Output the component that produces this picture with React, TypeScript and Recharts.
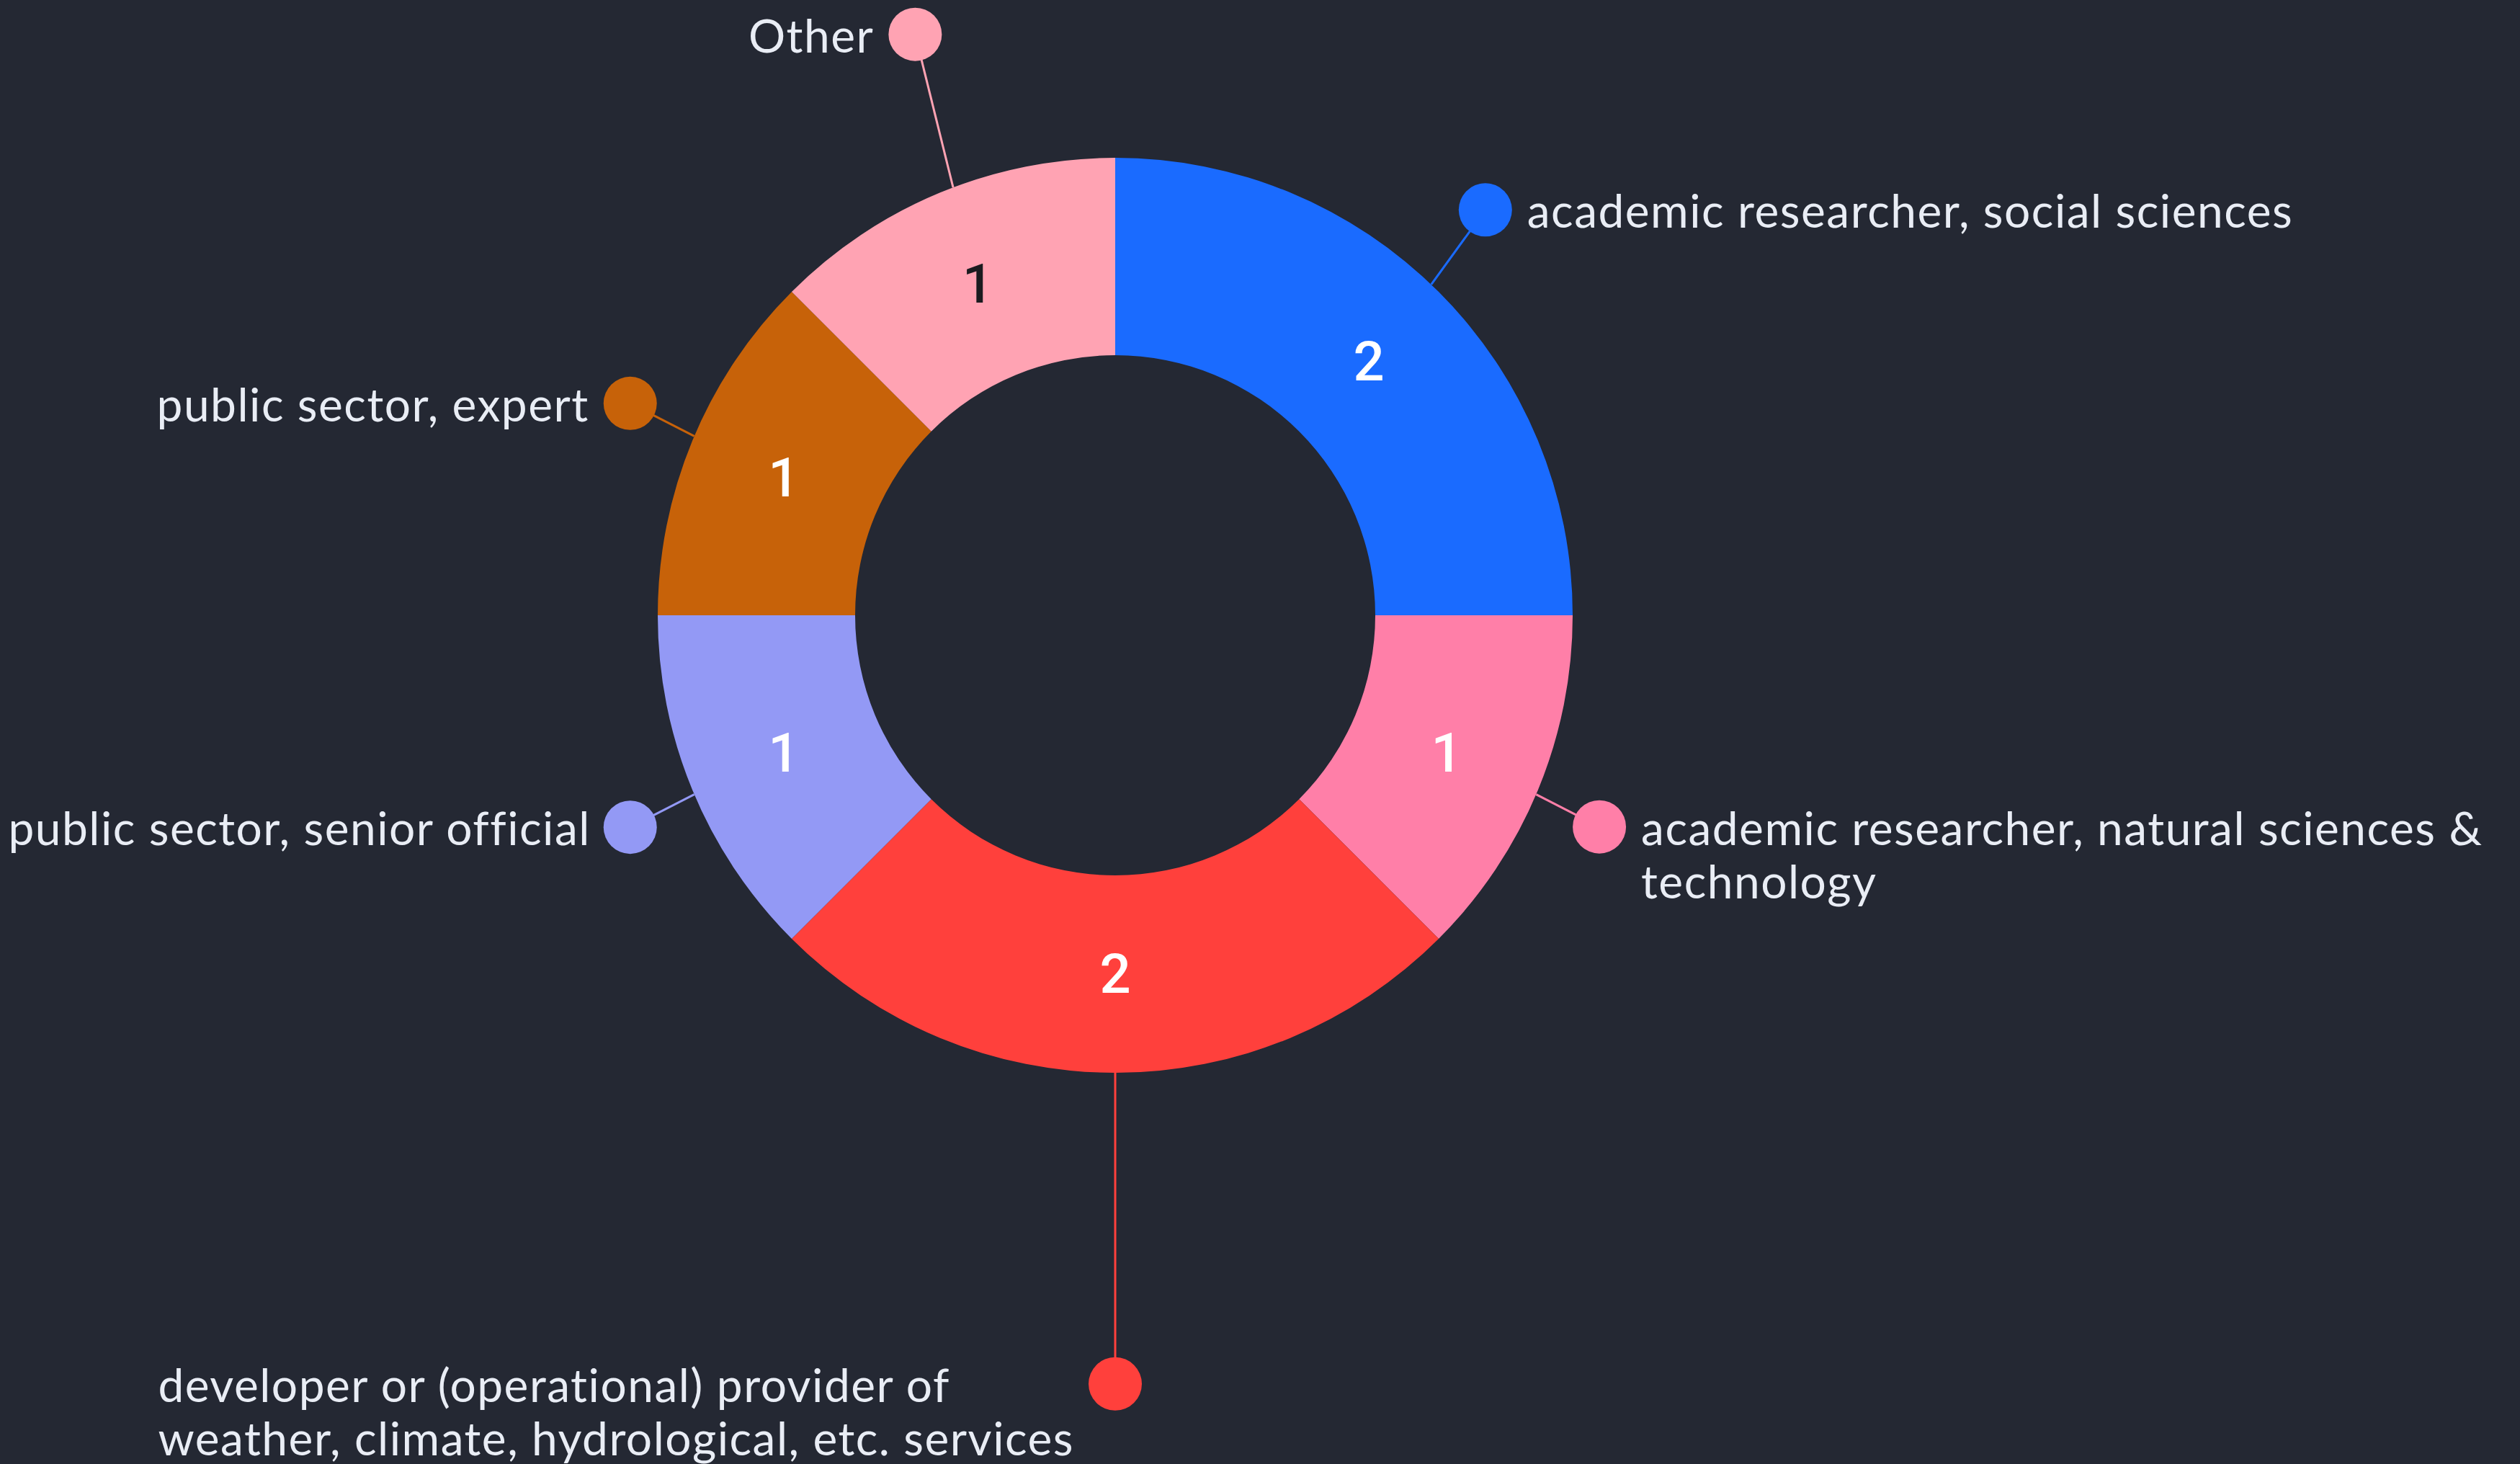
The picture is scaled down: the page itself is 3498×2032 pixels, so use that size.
import { Pie, PieChart, Cell } from "recharts";

const categories = [
  "academic researcher, social sciences",
  "academic researcher, natural sciences & technology",
  "developer or (operational) provider of weather, climate, hydrological, etc. services",
  "public sector, senior official",
  "public sector, expert",
  "Other",
];
const counts = [2, 1, 2, 1, 1, 1];
const sliceColors = ["#1A6BFF", "#FF7FA8", "#FF403C", "#9399F5", "#C76209", "#FFA3B3"];
const valueColors = ["#FFFFFF", "#FFFFFF", "#FFFFFF", "#FFFFFF", "#FFFFFF", "#1B1B1F"];

// callout layout: distance of the dot (in outer radii) and a small angle nudge in degrees
const calloutReach = [1.2, 1.155, 1.68, 1.157, 1.157, 1.343];
const calloutTilt = [2.6, -1.1, 0, 1.1, -1.1, -3.5];

const data = categories.map((name, i) => ({ name, value: counts[i] }));

const RAD = Math.PI / 180;
const LABEL_SIZE = 64;
const LABEL_SPACING = 1.5;
const WRAP_WIDTH = 1305;

let ctx: CanvasRenderingContext2D | null = null;
function measure(text: string) {
  if (!ctx) ctx = document.createElement("canvas").getContext("2d");
  if (!ctx) return text.length * 32;
  ctx.font = `${LABEL_SIZE}px Lato`;
  return ctx.measureText(text).width + text.length * LABEL_SPACING;
}

function wrap(text: string) {
  const words = text.split(" ");
  const lines: string[] = [];
  let cur = "";
  for (const w of words) {
    const next = cur ? cur + " " + w : w;
    if (cur && measure(next) > WRAP_WIDTH) {
      lines.push(cur);
      cur = w;
    } else cur = next;
  }
  if (cur) lines.push(cur);
  return lines;
}

function renderLabel(props: any) {
  const { cx, cy, midAngle, innerRadius, outerRadius, index, value } = props;
  const mid = (innerRadius + outerRadius) / 2;
  const vx = cx + mid * Math.cos(-midAngle * RAD);
  const vy = cy + mid * Math.sin(-midAngle * RAD);

  const s = midAngle + calloutTilt[index] / 2;
  const sx = cx + outerRadius * Math.cos(-s * RAD);
  const sy = cy + outerRadius * Math.sin(-s * RAD);
  const a = midAngle + calloutTilt[index];
  const r = outerRadius * calloutReach[index];
  const dx = cx + r * Math.cos(-a * RAD);
  const dy = cy + r * Math.sin(-a * RAD);

  const right = Math.cos(-a * RAD) > 0.01;
  const lines = wrap(categories[index]);
  const widest = Math.max(...lines.map(measure));
  const tx = right ? dx + 58 : dx - 57 - widest;

  return (
    <g key={`lbl-${index}`}>
      <line x1={sx} y1={sy} x2={dx} y2={dy} stroke={sliceColors[index]} strokeWidth={3} />
      <circle cx={dx} cy={dy} r={37} fill={sliceColors[index]} />
      <text
        x={tx}
        y={dy}
        fill="#E9EDF5"
        fontFamily="Lato"
        fontSize={LABEL_SIZE}
        letterSpacing={LABEL_SPACING}
        textAnchor="start"
        dominantBaseline="central"
      >
        {lines.map((ln, i) => (
          <tspan key={i} x={tx} dy={i === 0 ? 0 : 74}>
            {ln}
          </tspan>
        ))}
      </text>
      <text
        x={vx}
        y={vy}
        fill={valueColors[index]}
        fontFamily="Roboto"
        fontWeight={500}
        fontSize={76}
        textAnchor="middle"
        dominantBaseline="central"
      >
        {value}
      </text>
    </g>
  );
}

export default function App() {
  return (
    <div style={{ position: "fixed", left: 0, top: 0, width: 3498, height: 2032, background: "#242833" }}>
      <PieChart width={3498} height={2032} margin={{ top: 0, right: 0, bottom: 0, left: 0 }}>
        <Pie
          data={data}
          dataKey="value"
          nameKey="name"
          cx={1548}
          cy={854}
          innerRadius={361}
          outerRadius={635}
          startAngle={90}
          endAngle={-270}
          stroke="none"
          label={renderLabel}
          labelLine={false}
          isAnimationActive={false}
        >
          {data.map((d, i) => (
            <Cell key={d.name} fill={sliceColors[i]} />
          ))}
        </Pie>
      </PieChart>
    </div>
  );
}
